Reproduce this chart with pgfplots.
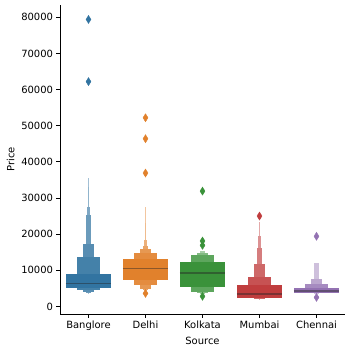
\documentclass[border=0pt]{standalone}
\usepackage{fontspec}
\setmainfont{DejaVu Sans}
\usepackage{pgfplots}
\pgfplotsset{compat=1.18}
\definecolor{cB}{HTML}{3274A1}
\definecolor{cO}{HTML}{E1812C}
\definecolor{cG}{HTML}{3A923A}
\definecolor{cR}{HTML}{C03D3E}
\definecolor{cP}{HTML}{9372B2}
\pgfplotsset{outl/.style={only marks, mark=diamond*, mark size=4bp, mark options={xscale=0.83}}}
% one letter-value box: colour, share of colour, centre, half width, lower, upper
\newcommand{\lv}[6]{%
  \pgfmathsetmacro\xa{#3-#4}\pgfmathsetmacro\xb{#3+#4}%
  \edef\tmp{\noexpand\addplot[fill=#1!#2!white, draw=none, forget plot] coordinates {(\xa,#5) (\xb,#5) (\xb,#6) (\xa,#6)} -- cycle;}\tmp}
% median line: centre, half width, value
\newcommand{\med}[3]{%
  \pgfmathsetmacro\xa{#1-#2}\pgfmathsetmacro\xb{#1+#2}%
  \edef\tmp{\noexpand\addplot[draw=black!85, draw opacity=0.45, line width=1.5bp, forget plot] coordinates {(\xa,#3) (\xb,#3)};}\tmp}
\begin{document}
\begin{tikzpicture}
\begin{axis}[
  scale only axis, width=285bp, height=309bp,
  xmin=-0.5, xmax=4.5, ymin=-2100, ymax=83400,
  axis x line*=bottom, axis y line*=left,
  axis line style={-, line width=0.8bp},
  xtick={0,1,2,3,4}, xticklabels={Banglore,Delhi,Kolkata,Mumbai,Chennai},
  ytick={0,10000,20000,30000,40000,50000,60000,70000,80000},
  scaled y ticks=false,
  yticklabel style={/pgf/number format/1000 sep={}},
  /pgf/number format/assume math mode=true,
  tick align=outside, major tick length=3.5bp,
  tick style={line width=0.8bp, black},
  xlabel={Source}, ylabel={Price},
  ticklabel style={font=\fontsize{10}{12}\selectfont},
  label style={font=\fontsize{10}{12}\selectfont},
  clip=false,
]
\coordinate (SW) at (rel axis cs:0,0);
% Banglore
\lv{cB}{45}{0}{0.00625}{3500}{35500}
\lv{cB}{54}{0}{0.0125}{3600}{33000}
\lv{cB}{63}{0}{0.025}{3700}{27500}
\lv{cB}{72}{0}{0.05}{3800}{25300}
\lv{cB}{82}{0}{0.1}{4000}{17400}
\lv{cB}{91}{0}{0.2}{4500}{13700}
\lv{cB}{100}{0}{0.4}{5200}{8900}
\med{0}{0.4}{6300}
% Delhi
\lv{cO}{45}{1}{0.00625}{4000}{27500}
\lv{cO}{54}{1}{0.0125}{4100}{23000}
\lv{cO}{63}{1}{0.025}{4300}{18300}
\lv{cO}{72}{1}{0.05}{4600}{16700}
\lv{cO}{82}{1}{0.1}{4900}{15800}
\lv{cO}{91}{1}{0.2}{6000}{14900}
\lv{cO}{100}{1}{0.4}{7400}{13200}
\med{1}{0.4}{10500}
% Kolkata
\lv{cG}{45}{2}{0.05}{3400}{15300}
\lv{cG}{63}{2}{0.1}{3600}{14900}
\lv{cG}{82}{2}{0.2}{4000}{14200}
\lv{cG}{100}{2}{0.4}{5400}{12400}
\med{2}{0.4}{9300}
% Mumbai
\lv{cR}{45}{3}{0.0125}{1900}{23300}
\lv{cR}{56}{3}{0.025}{1950}{19500}
\lv{cR}{67}{3}{0.05}{2000}{16300}
\lv{cR}{78}{3}{0.1}{2100}{11700}
\lv{cR}{89}{3}{0.2}{2200}{8100}
\lv{cR}{100}{3}{0.4}{2400}{5800}
\med{3}{0.4}{3400}
% Chennai
\lv{cP}{45}{4}{0.05}{3500}{12000}
\lv{cP}{63}{4}{0.1}{3600}{7500}
\lv{cP}{82}{4}{0.2}{3700}{6300}
\lv{cP}{100}{4}{0.4}{3800}{5200}
\med{4}{0.4}{4200}
% outliers
\addplot[outl, cB] coordinates {(0,79400) (0,62200)};
\addplot[outl, cO] coordinates {(1,52200) (1,46400) (1,36900) (1,3600)};
\addplot[outl, cG] coordinates {(2,31900) (2,18100) (2,16900) (2,2800)};
\addplot[outl, cR] coordinates {(3,25000)};
\addplot[outl, cP] coordinates {(4,19400) (4,2500)};
\end{axis}
\path (SW) ++(-60bp,-38bp) rectangle ++(352bp,352bp);
\end{tikzpicture}
\end{document}
